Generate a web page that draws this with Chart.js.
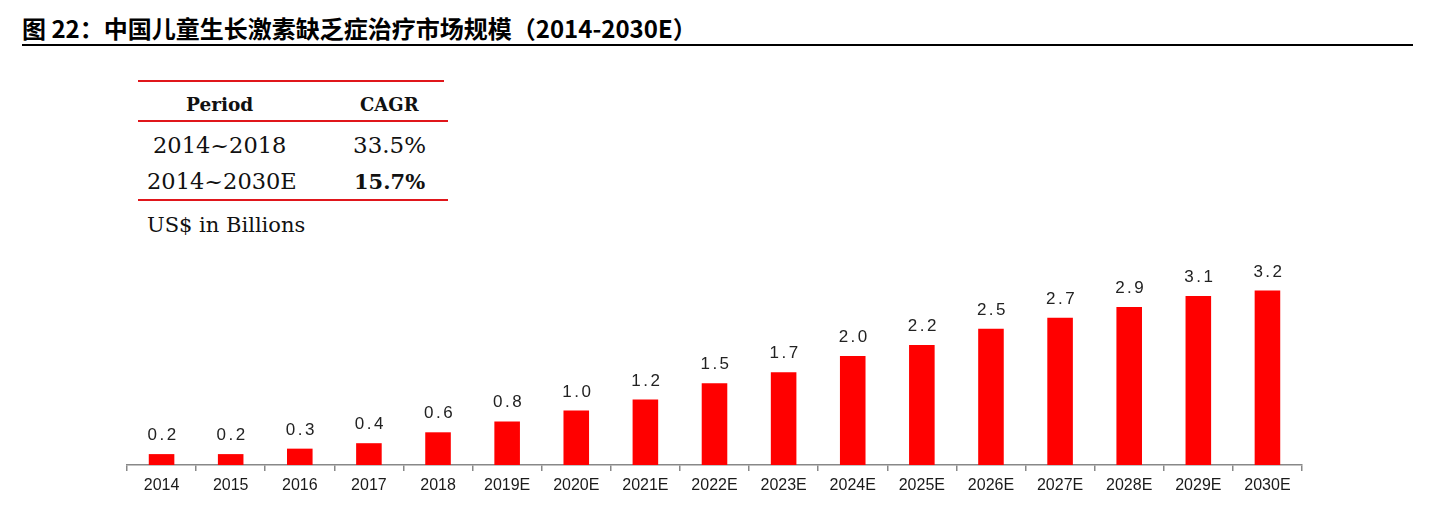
<!DOCTYPE html>
<html>
<head>
<meta charset="utf-8">
<script src="https://cdn.jsdelivr.net/npm/chart.js@4.4.1/dist/chart.umd.min.js"></script>
<style>
    html, body { margin: 0; padding: 0; background: #fff; }
    body { width: 1434px; height: 509px; position: relative; overflow: hidden; }
    #title {
        position: absolute; left: 22px; top: 12px;
        font-family: "Noto Sans CJK SC", sans-serif; font-weight: bold; font-size: 24px;
        line-height: 32px; color: #000; white-space: nowrap;
    }
    #title-rule { position: absolute; left: 22px; top: 44px; width: 1391px; height: 2px; background: #000; }
    .rule { position: absolute; height: 1.5px; background: #e0161b; }
    .cell {
        position: absolute; font-family: "DejaVu Serif", "Liberation Serif", serif;
        font-size: 22.5px; color: #111; white-space: nowrap; transform: translateY(-50%);
    }
    .head { font-weight: bold; font-size: 18px; }
    #chart-wrap { position: absolute; left: 0; top: 0; width: 1434px; height: 509px; }
</style>
</head>
<body>
<div id="title">图 22：中国儿童生长激素缺乏症治疗市场规模（2014-2030E）</div>
<div id="title-rule"></div>

<div class="rule" style="left:138px; top:80px; width:306px;"></div>
<div class="cell head" style="left:186px; top:104px; font-size:18.5px;">Period</div>
<div class="cell head" style="left:360px; top:104px; font-size:18px;">CAGR</div>
<div class="rule" style="left:138px; top:120px; width:310px;"></div>
<div class="cell" style="left:153px; top:145px;">2014~2018</div>
<div class="cell" style="left:353px; top:145px; font-size:23px;">33.5%</div>
<div class="cell" style="left:147px; top:181px;">2014~2030E</div>
<div class="cell" style="left:354px; top:181px; font-weight:bold; font-size:21px;">15.7%</div>
<div class="rule" style="left:138px; top:199px; width:310px;"></div>
<div class="cell" style="left:147px; top:225px; font-size:21px;">US$ in Billions</div>

<div id="chart-wrap"><canvas id="chart" width="1434" height="509"></canvas></div>

<script>
const years = ['2014', '2015', '2016', '2017', '2018', '2019E', '2020E', '2021E', '2022E',
    '2023E', '2024E', '2025E', '2026E', '2027E', '2028E', '2029E', '2030E'];
const marketSize = [0.2, 0.2, 0.3, 0.4, 0.6, 0.8, 1.0, 1.2, 1.5, 1.7, 2.0, 2.2, 2.5, 2.7, 2.9, 3.1, 3.2];
const valueLabels = ['0.2', '0.2', '0.3', '0.4', '0.6', '0.8', '1.0', '1.2', '1.5',
    '1.7', '2.0', '2.2', '2.5', '2.7', '2.9', '3.1', '3.2'];

// draws the value above each bar
const barLabels = {
    id: 'barLabels',
    afterDatasetsDraw(chart) {
        const ctx = chart.ctx;
        const meta = chart.getDatasetMeta(0);
        ctx.save();
        ctx.font = '17px "Liberation Sans", Arial, sans-serif';
        ctx.fillStyle = '#222';
        ctx.textAlign = 'center';
        ctx.textBaseline = 'alphabetic';
        ctx.letterSpacing = '2.5px';
        meta.data.forEach((bar, i) => {
            ctx.fillText(valueLabels[i], bar.x + 1.5, bar.y - 14);
        });
        ctx.restore();
    }
};

new Chart(document.getElementById('chart'), {
    type: 'bar',
    data: {
        labels: years,
        datasets: [{
            data: marketSize,
            backgroundColor: '#ff0000',
            borderWidth: 0,
            categoryPercentage: 1,
            barPercentage: 0.37
        }]
    },
    options: {
        responsive: false,
        animation: false,
        devicePixelRatio: 1,
        layout: { padding: { left: 127, right: 132, top: 247, bottom: 0 } },
        plugins: { legend: { display: false }, tooltip: { enabled: false } },
        scales: {
            x: {
                afterFit: (scale) => { scale.height = 44; },
                border: { display: true, color: '#888', width: 1.5 },
                grid: { offset: true, drawOnChartArea: false, drawTicks: true, tickLength: 6, color: '#888', lineWidth: 1.5 },
                ticks: { color: '#1a1a1a', font: { family: '"Liberation Sans", Arial, sans-serif', size: 16 }, padding: 5 }
            },
            y: { display: false, min: 0, max: 4 }
        }
    },
    plugins: [barLabels]
});
</script>
</body>
</html>
